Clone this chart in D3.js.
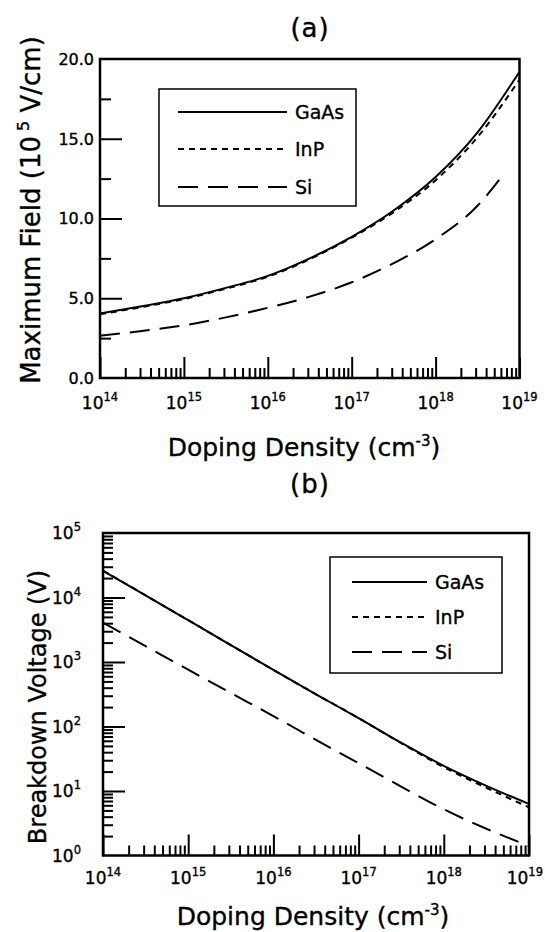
<!DOCTYPE html>
<html>
<head>
<meta charset="utf-8">
<script src="https://cdn.jsdelivr.net/npm/d3@7"></script>
<style>
  body { margin: 0; background: #fff; }
  text { font-family: "DejaVu Sans", sans-serif; fill: #000; stroke: #000; stroke-width: 0.35; }
</style>
</head>
<body>
<svg id="chart" width="545" height="932"></svg>
<script>
// doping density (cm^-3), half decade steps
const doping = [1e14, 3.16e14, 1e15, 3.16e15, 1e16, 3.16e16, 1e17, 3.16e17, 1e18, 3.16e18, 1e19];
const dopingSi = [1e14, 3.16e14, 1e15, 3.16e15, 1e16, 3.16e16, 1e17, 3.16e17, 1e18, 3.16e18, 6.3e18];

// (a) maximum field (10^5 V/cm)
const fieldGaAs = [4.05, 4.5, 5.0, 5.65, 6.4, 7.5, 8.85, 10.5, 12.6, 15.4, 19.2];
const fieldInP  = [4.0, 4.45, 4.95, 5.6, 6.35, 7.45, 8.8, 10.4, 12.4, 15.1, 18.7];
const fieldSi   = [2.65, 2.95, 3.3, 3.8, 4.4, 5.1, 6.0, 7.2, 8.7, 10.8, 12.7];

// (b) breakdown voltage (V)
const voltGaAs = [26000, 10800, 4450, 1830, 755, 316, 135, 56, 24.5, 12, 6.3];
const voltInP  = [26000, 10800, 4450, 1830, 755, 316, 135, 55, 23.4, 11.2, 5.6];
const voltSi   = [4070, 1760, 759, 331, 145, 62, 27, 11.7, 5.2, 2.6, 1.4];

// ticks
const fieldTicks = [0, 5, 10, 15, 20];
const fieldMinor = [2.5, 7.5, 12.5, 17.5];
const dopingDecades = [1e14, 1e15, 1e16, 1e17, 1e18, 1e19];
const voltDecades = [1, 10, 100, 1e3, 1e4, 1e5];
const legendNames = ['GaAs', 'InP', 'Si'];

const dashes = ['none', '6,5', '20,10'];
const svg = d3.select('#chart');

// minor log ticks 2..9 in each decade
function minorLog(decades) {
  const out = [];
  decades.slice(0, -1).forEach(d => {
    for (let m = 2; m <= 9; m++) out.push(m * d);
  });
  return out;
}
const exp10 = v => String(Math.round(Math.log10(v)));

function tidy(sel) {
  sel.select('.domain').remove();
  sel.selectAll('line').attr('stroke-width', 2);
}

function panel(o) {
  const g = svg.append('g');
  const [x0, x1] = o.x.range();
  const [yb, yt] = o.y.range();

  // curves
  const line = d3.line().x(d => o.x(d[0])).y(d => o.y(d[1])).curve(d3.curveMonotoneX);
  o.series.forEach((s, i) => {
    g.append('path')
      .datum(d3.zip(s.x, s.y))
      .attr('d', line)
      .attr('fill', 'none')
      .attr('stroke', '#000')
      .attr('stroke-width', 2)
      .attr('stroke-dasharray', dashes[i]);
  });

  // x ticks (inward)
  g.append('g').attr('transform', `translate(0,${yb})`)
    .call(d3.axisBottom(o.x).tickValues(minorLog(dopingDecades)).tickSize(-10).tickFormat(''))
    .call(tidy);
  g.append('g').attr('transform', `translate(0,${yb})`)
    .call(d3.axisBottom(o.x).tickValues(dopingDecades).tickSize(-21).tickFormat(''))
    .call(tidy);

  // x labels 10^n
  dopingDecades.forEach(d => {
    const t = g.append('text')
      .attr('x', o.x(d))
      .attr('y', o.xLabelY)
      .attr('text-anchor', 'middle')
      .attr('font-size', 17);
    t.append('tspan').text('10');
    t.append('tspan').attr('dy', -8).attr('font-size', 11.5).text(exp10(d));
    // keep the last label inside the page
    const w = t.node().getComputedTextLength();
    if (o.x(d) + w / 2 > 543) t.attr('x', 543 - w / 2);
  });

  // y ticks
  g.append('g').attr('transform', `translate(${x0},0)`)
    .call(d3.axisLeft(o.y).tickValues(o.yMinor).tickSize(-o.minorLen).tickFormat(''))
    .call(tidy);
  g.append('g').attr('transform', `translate(${x0},0)`)
    .call(d3.axisLeft(o.y).tickValues(o.yMajor).tickSize(-22).tickFormat(''))
    .call(tidy);

  o.yLabels(g);

  // frame
  g.append('rect')
    .attr('x', x0).attr('y', yt)
    .attr('width', x1 - x0).attr('height', yb - yt)
    .attr('fill', 'none')
    .attr('stroke', '#000')
    .attr('stroke-width', 2.5);

  // legend
  const L = o.legend;
  g.append('rect')
    .attr('x', L.x).attr('y', L.y).attr('width', L.w).attr('height', L.h)
    .attr('fill', '#fff').attr('stroke', '#000').attr('stroke-width', 1.5);
  legendNames.forEach((n, i) => {
    const yy = L.rows[i];
    g.append('line')
      .attr('x1', L.lx0).attr('x2', L.lx1).attr('y1', yy).attr('y2', yy)
      .attr('stroke', '#000').attr('stroke-width', 2)
      .attr('stroke-dasharray', dashes[i]);
    g.append('text')
      .attr('x', L.tx).attr('y', yy + 7)
      .attr('font-size', 19)
      .text(n);
  });

  // titles
  g.append('text')
    .attr('x', 310).attr('y', o.titleY)
    .attr('text-anchor', 'middle')
    .attr('font-size', 26).attr('letter-spacing', 1)
    .attr('stroke-width', 0.6)
    .text(o.title);

  const xt = g.append('text')
    .attr('x', o.xTitleX).attr('y', o.xTitleY)
    .attr('text-anchor', 'middle')
    .attr('font-size', 25)
    .attr('stroke-width', 0.6);
  xt.append('tspan').text('Doping Density (cm');
  xt.append('tspan').attr('dy', -10).attr('font-size', 15).text('-3');
  xt.append('tspan').attr('dy', 10).text(')');

  const yt2 = g.append('text')
    .attr('transform', `translate(${o.yTitleX},${o.yTitleY}) rotate(-90)`)
    .attr('text-anchor', 'middle')
    .attr('font-size', o.yTitleSize)
    .attr('stroke-width', 0.6);
  o.yTitle(yt2);
}

// (a) maximum field
const xA = d3.scaleLog().domain([1e14, 1e19]).range([100, 519.5]);
const yA = d3.scaleLinear().domain([0, 20]).range([378, 59]);

panel({
  x: xA, y: yA,
  series: [
    { x: doping, y: fieldGaAs },
    { x: doping, y: fieldInP },
    { x: dopingSi, y: fieldSi }
  ],
  xLabelY: 409,
  yMajor: fieldTicks.slice(1, -1),
  yMinor: fieldMinor,
  minorLen: 11,
  yLabels: g => {
    fieldTicks.forEach(v => {
      g.append('text')
        .attr('x', 94).attr('y', yA(v))
        .attr('dy', '0.36em')
        .attr('text-anchor', 'end')
        .attr('font-size', 16)
        .text(d3.format('.1f')(v));
    });
  },
  legend: { x: 159, y: 89, w: 197, h: 117, rows: [112, 149, 187], lx0: 178, lx1: 287, tx: 295 },
  title: '(a)', titleY: 37,
  xTitleX: 304, xTitleY: 456,
  yTitleX: 40, yTitleY: 210, yTitleSize: 26,
  yTitle: t => {
    t.append('tspan').text('Maximum Field (10');
    t.append('tspan').attr('dy', -11).attr('dx', 5).attr('font-size', 16).text('5');
    t.append('tspan').attr('dy', 11).text(' V/cm)');
  }
});

// (b) breakdown voltage
const xB = d3.scaleLog().domain([1e14, 1e19]).range([103, 529]);
const yB = d3.scaleLog().domain([1, 1e5]).range([855.5, 533]);

panel({
  x: xB, y: yB,
  series: [
    { x: doping, y: voltGaAs },
    { x: doping, y: voltInP },
    { x: doping, y: voltSi }
  ],
  xLabelY: 884,
  yMajor: voltDecades.slice(1, -1),
  yMinor: minorLog(voltDecades),
  minorLen: 10,
  yLabels: g => {
    voltDecades.forEach(v => {
      const t = g.append('text')
        .attr('x', 81).attr('y', yB(v))
        .attr('dy', '0.36em')
        .attr('text-anchor', 'end')
        .attr('font-size', 17);
      t.append('tspan').text('10');
      t.append('tspan').attr('dy', -8).attr('font-size', 11.5).text(exp10(v));
    });
  },
  legend: { x: 330, y: 557, w: 172, h: 116, rows: [582, 617, 652], lx0: 352, lx1: 427, tx: 435 },
  title: '(b)', titleY: 493,
  xTitleX: 313, xTitleY: 925,
  yTitleX: 46, yTitleY: 707, yTitleSize: 24,
  yTitle: t => {
    t.text('Breakdown Voltage (V)');
  }
});
</script>
</body>
</html>
